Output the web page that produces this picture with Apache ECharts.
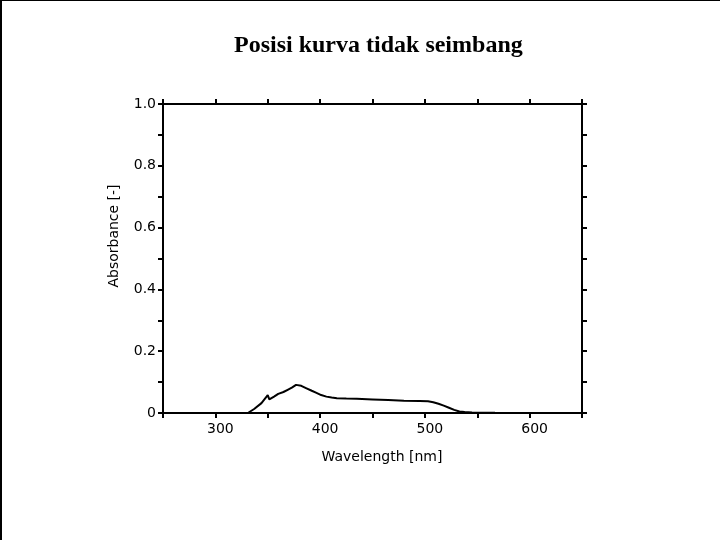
<!DOCTYPE html>
<html>
<head>
<meta charset="utf-8">
<script src="https://cdn.jsdelivr.net/npm/echarts@6/dist/echarts.min.js"></script>
<style>
  html, body { margin: 0; padding: 0; background: #fff; }
  #main { width: 720px; height: 540px; }
</style>
</head>
<body>
<div id="main"></div>
<script>
// spectrum
var wavelength = [331, 337, 344, 350, 351.5, 356, 360, 365, 369, 373, 377, 382, 387, 392, 396, 401, 406, 411, 416, 425, 435, 450, 465, 480, 495, 503, 508, 513, 518, 523, 528, 533, 538, 545, 555, 567];
var absorbance = [0, 0.013, 0.032, 0.058, 0.044, 0.053, 0.062, 0.068, 0.075, 0.082, 0.091, 0.088, 0.080, 0.072, 0.066, 0.058, 0.053, 0.050, 0.048, 0.047, 0.046, 0.044, 0.042, 0.040, 0.039, 0.038, 0.035, 0.030, 0.024, 0.017, 0.010, 0.005, 0.003, 0.002, 0.001, 0.001];
var xLabels = [300, 400, 500, 600];
var yLabels = [0, 0.2, 0.4, 0.6, 0.8, 1.0];

var myChart = echarts.init(document.getElementById('main'));

var points = wavelength.map(function (w, i) { return [w, absorbance[i]]; });
var labelFont = { fontFamily: 'DejaVu Sans', fontSize: 14, color: '#000' };

function xFmt(v) {
  return xLabels.indexOf(Math.round(v)) >= 0 ? String(Math.round(v)) : '';
}
function yFmt(v) {
  var r = Math.round(v * 10) / 10;
  for (var i = 0; i < yLabels.length; i++) {
    if (Math.abs(yLabels[i] - r) < 1e-6) return r === 0 ? '0' : r.toFixed(1);
  }
  return '';
}

var axisLine = { show: true, onZero: false, lineStyle: { color: '#000', width: 2 } };
var axisTick = { show: true, inside: false, length: 5, lineStyle: { color: '#000', width: 2 } };

option = {
  animation: false,
  backgroundColor: '#fff',
  title: {
    text: 'Posisi kurva tidak seimbang',
    left: 229,
    top: 29,
    textStyle: { fontFamily: 'Liberation Serif', fontWeight: 'bold', fontSize: 24, color: '#000' }
  },
  grid: { left: 163, right: 138, top: 104, bottom: 127 },
  xAxis: [{
    type: 'value', position: 'bottom', min: 250, max: 650, interval: 50,
    axisLine: axisLine, axisTick: axisTick, splitLine: { show: false },
    axisLabel: Object.assign({ formatter: xFmt, margin: 9, padding: [0, 0, 0, 10], showMinLabel: true, showMaxLabel: true }, labelFont)
  }, {
    type: 'value', position: 'top', min: 250, max: 650, interval: 50,
    axisLine: axisLine, axisTick: axisTick, splitLine: { show: false },
    axisLabel: { show: false }
  }],
  yAxis: [{
    type: 'value', position: 'left', min: 0, max: 1, interval: 0.1,
    axisLine: axisLine, axisTick: axisTick, splitLine: { show: false },
    axisLabel: Object.assign({ formatter: yFmt, margin: 7 }, labelFont)
  }, {
    type: 'value', position: 'right', min: 0, max: 1, interval: 0.1,
    axisLine: axisLine, axisTick: axisTick, splitLine: { show: false },
    axisLabel: { show: false }
  }],
  graphic: [
    { type: 'line', shape: { x1: 0, y1: 0.5, x2: 720, y2: 0.5 }, style: { stroke: '#000', lineWidth: 1 } },
    { type: 'line', shape: { x1: 1, y1: 0, x2: 1, y2: 540 }, style: { stroke: '#000', lineWidth: 2 } },
    {
      type: 'text', x: 114, y: 236, rotation: Math.PI / 2,
      style: { text: 'Absorbance [-]', font: '14px "DejaVu Sans"', fill: '#000', align: 'center', verticalAlign: 'middle' }
    },
    {
      type: 'text', x: 382, y: 457,
      style: { text: 'Wavelength [nm]', font: '14px "DejaVu Sans"', fill: '#000', align: 'center', verticalAlign: 'middle' }
    }
  ],
  series: [{
    type: 'line',
    data: points,
    showSymbol: false,
    smooth: false,
    lineStyle: { color: '#000', width: 2 }
  }]
};

myChart.setOption(option);
window.addEventListener('resize', function () { myChart.resize(); });
</script>
</body>
</html>
